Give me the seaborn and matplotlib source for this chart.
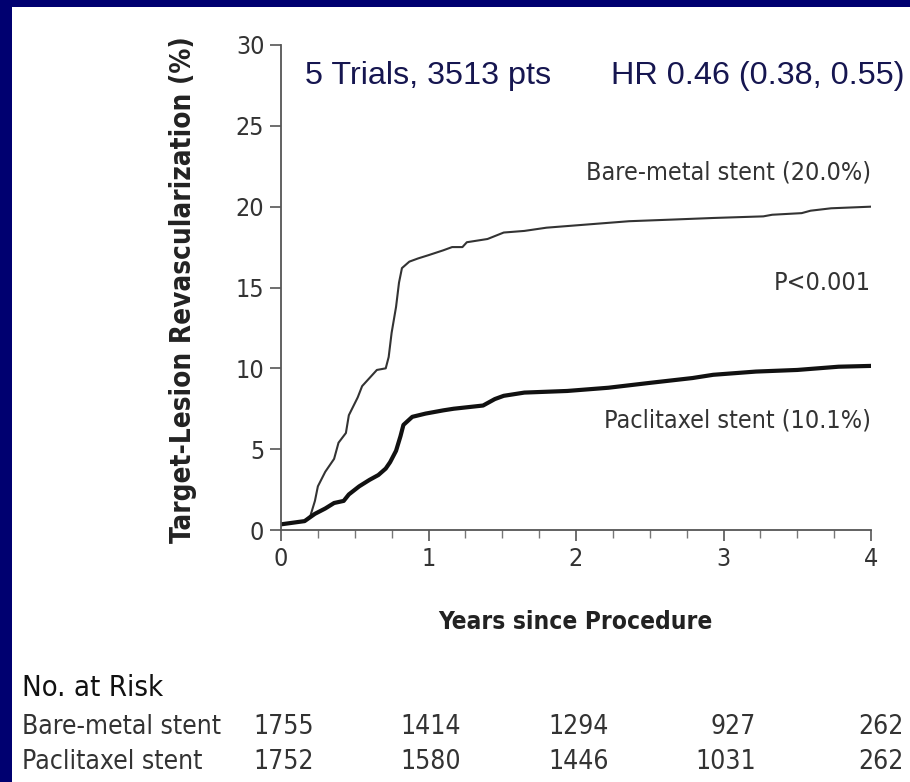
import matplotlib
matplotlib.use("Agg")
import matplotlib.pyplot as plt
from matplotlib.patches import Rectangle
from matplotlib.ticker import MultipleLocator
import matplotlib.transforms as mtransforms
import pandas as pd
import seaborn as sns

# Cumulative target-lesion revascularization (%) by years since procedure
bms_years = [0, 0.16, 0.20, 0.23, 0.25, 0.30, 0.36, 0.39, 0.44, 0.46, 0.52, 0.55,
             0.62, 0.65, 0.71, 0.73, 0.75, 0.78, 0.80, 0.82, 0.87, 0.93, 1.00,
             1.10, 1.16, 1.23, 1.26, 1.40, 1.51, 1.65, 1.80, 1.94, 2.08, 2.36,
             2.65, 2.93, 3.27, 3.33, 3.53, 3.59, 3.73, 4.00]
bms_pct = [0.35, 0.55, 0.9, 1.8, 2.7, 3.6, 4.4, 5.4, 6.0, 7.1, 8.2, 8.9,
           9.6, 9.9, 10.0, 10.7, 12.2, 13.8, 15.3, 16.2, 16.6, 16.8, 17.0,
           17.3, 17.5, 17.5, 17.8, 18.0, 18.4, 18.5, 18.7, 18.8, 18.9, 19.1,
           19.2, 19.3, 19.4, 19.5, 19.6, 19.75, 19.9, 20.0]

pac_years = [0, 0.16, 0.23, 0.30, 0.36, 0.425, 0.46, 0.53, 0.60, 0.66, 0.71,
             0.74, 0.78, 0.81, 0.83, 0.89, 0.98, 1.10, 1.17, 1.37, 1.45, 1.51,
             1.65, 1.94, 2.22, 2.50, 2.79, 2.93, 3.22, 3.50, 3.78, 4.00]
pac_pct = [0.35, 0.55, 1.0, 1.33, 1.67, 1.8, 2.2, 2.7, 3.1, 3.4, 3.8,
           4.2, 4.9, 5.8, 6.5, 7.0, 7.2, 7.4, 7.5, 7.7, 8.1, 8.3,
           8.5, 8.6, 8.8, 9.1, 9.4, 9.6, 9.8, 9.9, 10.1, 10.15]

# Number at risk table
risk_years = [0, 1, 2, 3, 4]
risk_groups = ["Bare-metal stent", "Paclitaxel stent"]
risk_bms = [1755, 1414, 1294, 927, 262]
risk_pac = [1752, 1580, 1446, 1031, 262]

sns.set_theme(style="white")
plt.rcParams["font.family"] = ["DejaVu Sans"]

W, H = 910, 782
fig = plt.figure(figsize=(W / 100, H / 100), dpi=100, facecolor="#000070")
fig.patches.append(Rectangle((12 / W, 0), 1 - 12 / W, 1 - 7 / H,
                             transform=fig.transFigure, facecolor="white",
                             edgecolor="none", zorder=-10))

def fx(px):
    return px / W

def fy(py):
    return 1 - py / H

ax = fig.add_axes([fx(281), fy(530), fx(871) - fx(281), fy(45) - fy(530)])
ax.set_facecolor("none")
ax.set_zorder(5)

bms = pd.DataFrame({"years": bms_years, "pct": bms_pct})
pac = pd.DataFrame({"years": pac_years, "pct": pac_pct})
sns.lineplot(data=bms, x="years", y="pct", ax=ax, color="#333333", linewidth=1.5)
sns.lineplot(data=pac, x="years", y="pct", ax=ax, color="#111111", linewidth=3.0)

ax.set_xlim(0, 4)
ax.set_ylim(0, 30)
ax.set_xticks(risk_years)
ax.xaxis.set_minor_locator(MultipleLocator(0.25))
ax.set_yticks([0, 5, 10, 15, 20, 25, 30])
for s in ["top", "right"]:
    ax.spines[s].set_visible(False)
for s in ["left", "bottom"]:
    ax.spines[s].set_color("#555555")
    ax.spines[s].set_linewidth(1.3)
ax.tick_params(axis="both", which="major", direction="out", length=8, width=1.2,
               color="#555555", labelsize=18, labelcolor="#333333", pad=4,
               bottom=True, left=True)
ax.tick_params(axis="x", which="minor", direction="out", length=6, width=1.0,
               color="#777777", bottom=True)
for lab in ax.get_xticklabels() + ax.get_yticklabels():
    lab.set_fontstretch("condensed")

ax.set_xlabel("")
ax.set_ylabel("")

label_kw = dict(fontsize=18, color="#333333", fontstretch="condensed")
ax.text(4, 22.1, "Bare-metal stent (20.0%)", ha="right", va="center", **label_kw)
ax.text(4, 15.3, "P<0.001", ha="right", va="center", **label_kw)
ax.text(4, 6.8, "Paclitaxel stent (10.1%)", ha="right", va="center", **label_kw)

head_kw = dict(fontsize=23.3, color="#161650", family=["Liberation Sans Narrow", "Liberation Sans"])
ax.text(0.16, 28.1, "5 Trials, 3513 pts", ha="left", va="center", clip_on=False, **head_kw)
ax.text(2.24, 28.1, "HR 0.46 (0.38, 0.55)", ha="left", va="center", clip_on=False, **head_kw)

fig.text(fx(183), fy(290), "Target-Lesion Revascularization (%)", rotation=90,
         ha="center", va="center", fontsize=20, fontweight="bold", color="#222222",
         fontstretch="condensed")
fig.text(fx(575), fy(622), "Years since Procedure", ha="center", va="center",
         fontsize=17.6, fontweight="bold", color="#222222", fontstretch="condensed")

# At-risk table below the axis
fig.text(fx(22), fy(688), "No. at Risk", ha="left", va="center", fontsize=21,
         color="#111111", fontweight="medium", fontstretch="condensed")
row_y = [727, 762]
blend = mtransforms.blended_transform_factory(ax.transData, fig.transFigure)
for name, counts, py in zip(risk_groups, [risk_bms, risk_pac], row_y):
    fig.text(fx(22), fy(py), name, ha="left", va="center", fontsize=19,
             color="#333333", fontstretch="condensed")
    for yr, n in zip(risk_years, counts):
        ax.text(yr + 0.22, fy(py), f"{n}", transform=blend, ha="right", va="center",
                fontsize=19, color="#333333", fontstretch="condensed", clip_on=False)

fig.savefig("out.png", dpi=100, facecolor=fig.get_facecolor())
